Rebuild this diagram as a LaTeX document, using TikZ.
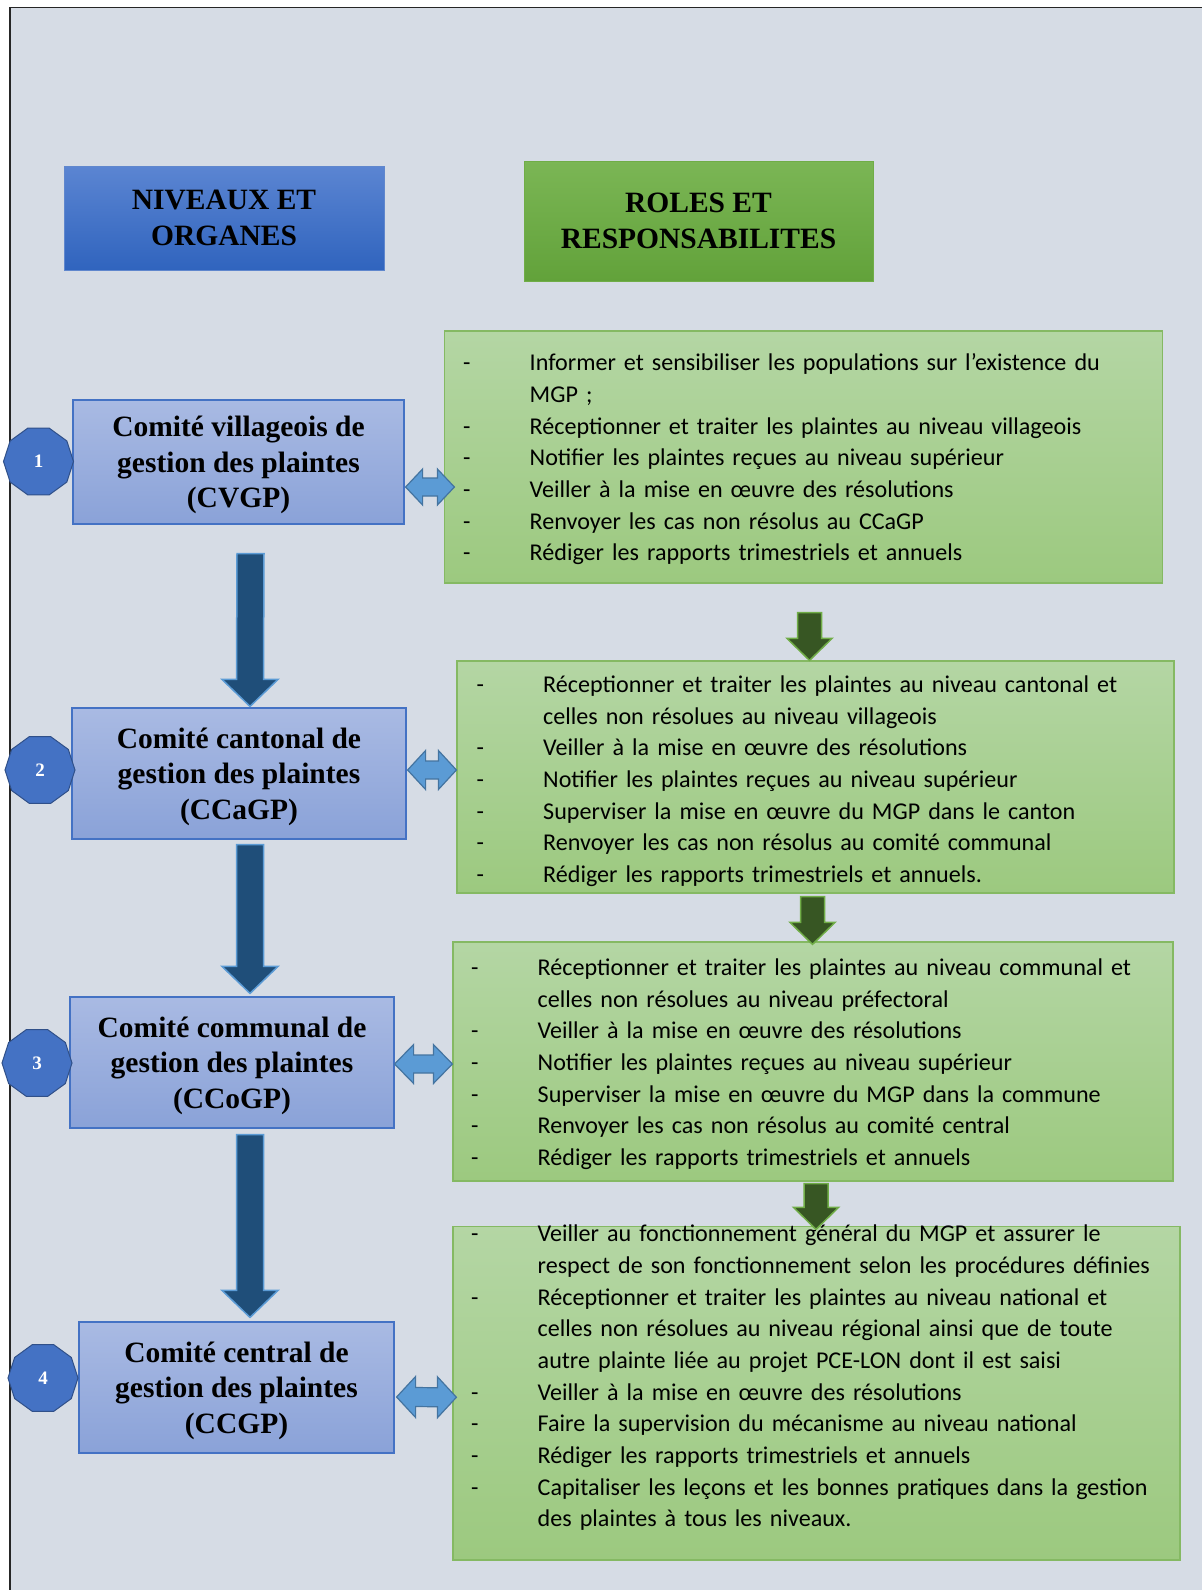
\documentclass[tikz,border=0pt]{standalone}
\usepackage{fontspec}
\setmainfont{Carlito}
\newfontfamily\titre{Liberation Serif}
\usetikzlibrary{calc,shapes.geometric}
\definecolor{fond}{HTML}{D6DCE5}
\definecolor{bleuhaut}{HTML}{5B85D2}
\definecolor{bleubas}{HTML}{3064BE}
\definecolor{verthaut}{HTML}{7BB655}
\definecolor{vertbas}{HTML}{62A23A}
\definecolor{comitehaut}{HTML}{A9BAE3}
\definecolor{comitebas}{HTML}{8AA2D8}
\definecolor{roleshaut}{HTML}{B4D6A4}
\definecolor{rolesbas}{HTML}{9CC97F}
\definecolor{bleuoffice}{HTML}{4472C4}
\definecolor{bleuclair}{HTML}{5B9BD5}
\definecolor{bleunuit}{HTML}{1F4E79}
\definecolor{vertoffice}{HTML}{70AD47}
\definecolor{vertfonce}{HTML}{375623}
\newcommand{\tiret}{\strut\makebox[66.5pt][l]{-}}
\newcommand{\suite}{\strut\hspace*{66.5pt}}
\newcommand{\haut}{\rule{0pt}{27pt}}
\newcommand{\flechebas}[6]{\draw[#1] ($(#2)+(-#4,0)$) -- ($(#3)+(-#4,-#6)$) -- ($(#3)+(-#5,-#6)$) -- (#3) -- ($(#3)+(#5,-#6)$) -- ($(#3)+(#4,-#6)$) -- ($(#2)+(#4,0)$) -- cycle;}
\newcommand{\flechedouble}[6]{\draw[#1] (#2) -- ($(#2)+(#6,-#5)$) -- ($(#2)+(#6,-#4)$) -- ($(#3)+(-#6,-#4)$) -- ($(#3)+(-#6,-#5)$) -- (#3) -- ($(#3)+(-#6,#5)$) -- ($(#3)+(-#6,#4)$) -- ($(#2)+(#6,#4)$) -- ($(#2)+(#6,#5)$) -- cycle;}
\begin{document}
\begin{tikzpicture}[x=1pt, y=-1pt,
	entete/.style={rectangle, line width=1pt, inner sep=0, align=center, font=\titre\bfseries\fontsize{29.5}{35.5}\selectfont},
	comite/.style={rectangle, draw=bleuoffice, line width=1.2pt, top color=comitehaut, bottom color=comitebas, inner sep=0, align=center, font=\titre\bfseries\fontsize{29.5}{35.5}\selectfont},
	numero/.style={regular polygon, regular polygon sides=10, minimum size=70pt, inner sep=0, fill=bleuoffice, draw=bleuoffice!70!black, line width=1pt, text=white, font=\titre\bfseries\fontsize{19}{20}\selectfont},
	roles/.style={rectangle, draw=vertoffice!85!white, line width=1.2pt, top color=roleshaut, bottom color=rolesbas, inner sep=0},
	texte/.style={anchor=north west, inner sep=0, text width=720pt, align=left, font=\fontsize{24.1}{31.7}\selectfont},
	fbleue/.style={fill=bleunuit, draw=bleuclair, line width=1.5pt, line join=miter},
	fdouble/.style={fill=bleuclair, draw=bleuclair!75!black, line width=1.2pt, line join=miter},
	fverte/.style={fill=vertfonce, draw=vertoffice, line width=1.5pt, line join=miter}]
	\useasboundingbox (0,0) rectangle (1202,1590);
	\fill[fond] (9.8,7.5) rectangle (1202,1590);
	\draw[black!85, line width=1.4pt] (9.8,1590) -- (9.8,7.5) -- (1202,7.5);

	\node[entete, draw=bleuoffice!85!white, top color=bleuhaut, bottom color=bleubas, minimum width=320pt, minimum height=104pt] (h1) at (224,218) {NIVEAUX ET\\ORGANES};
	\node[entete, draw=vertoffice, top color=verthaut, bottom color=vertbas, minimum width=349pt, minimum height=120pt] (h2) at (698.5,221) {ROLES ET\\RESPONSABILITES};

	\node[comite, minimum width=331pt, minimum height=124pt] (v1) at (238.5,462) {\haut Comité villageois de\\gestion des plaintes\\(CVGP)};
	\node[comite, minimum width=334pt, minimum height=131pt] (v2) at (239,773.5) {\haut Comité cantonal de\\gestion des plaintes\\(CCaGP)};
	\node[comite, minimum width=324pt, minimum height=131pt] (v3) at (232,1062.5) {\haut Comité communal de\\gestion des plaintes\\(CCoGP)};
	\node[comite, minimum width=315pt, minimum height=131pt] (v4) at (236.5,1387.5) {\haut Comité central de\\gestion des plaintes\\(CCGP)};

	\node[numero] (n1) at (38.5,461.5) {1};
	\node[numero] (n2) at (40,770) {2};
	\node[numero] (n3) at (37,1063) {3};
	\node[numero] (n4) at (43,1378) {4};

	\node[roles, minimum width=718pt, minimum height=252pt] (r1) at (803.5,457) {};
	\node[roles, minimum width=717pt, minimum height=232pt] (r2) at (815.5,777) {};
	\node[roles, minimum width=720pt, minimum height=239pt] (r3) at (813,1061.5) {};
	\node[roles, minimum width=727pt, minimum height=333.5pt] (r4) at (816.5,1393.25) {};

	\coordinate (b1h) at ($(v1.south)+(12,29)$);
	\coordinate (b1b) at ($(v2.north)+(11,-1)$);
	\coordinate (b2h) at ($(v2.south)+(11,5)$);
	\coordinate (b2b) at ($(v3.north)+(18,-3)$);
	\coordinate (b3h) at ($(v3.south)+(18,6)$);
	\coordinate (b3b) at ($(v4.north)+(13.5,-4)$);
	\flechebas{fbleue}{b1h}{b1b}{13.5}{28}{27}
	\flechebas{fbleue}{b2h}{b2b}{13.5}{28}{27}
	\flechebas{fbleue}{b3h}{b3b}{13.5}{28}{27}

	\coordinate (d1g) at ($(v1.east)+(1,25)$);
	\coordinate (d1d) at ($(r1.west)+(10.5,30)$);
	\coordinate (d2g) at ($(v2.east)+(1,-3.5)$);
	\coordinate (d2d) at ($(r2.west)+(0,-7)$);
	\coordinate (d3g) at ($(v3.east)+(0,1.5)$);
	\coordinate (d3d) at ($(r3.west)+(0,2.5)$);
	\coordinate (d4g) at ($(v4.east)+(2,9.5)$);
	\coordinate (d4d) at ($(r4.west)+(4,4)$);
	\flechedouble{fdouble}{d1g}{d1d}{9}{18}{17}
	\flechedouble{fdouble}{d2g}{d2d}{9}{19.5}{18}
	\flechedouble{fdouble}{d3g}{d3d}{9}{19.5}{19}
	\flechedouble{fdouble}{d4g}{d4d}{9.5}{20.5}{19}

	\coordinate (g1h) at ($(r1.south)+(6,29)$);
	\coordinate (g1b) at ($(r2.north)+(-6,0)$);
	\coordinate (g2h) at ($(r2.south)+(-3,3)$);
	\coordinate (g2b) at ($(r3.north)+(-0.5,3)$);
	\coordinate (g3h) at ($(r3.south)+(3,2)$);
	\coordinate (g3b) at ($(r4.north)+(-0.5,3.5)$);
	\flechebas{fverte}{g1h}{g1b}{12}{22.5}{22}
	\flechebas{fverte}{g2h}{g2b}{12}{22.5}{22}
	\flechebas{fverte}{g3h}{g3b}{12}{22.5}{22}

	\node[texte] (t1) at (463,348.3) {\tiret Informer et sensibiliser les populations sur l’existence du\\
		\suite MGP~;\\
		\tiret Réceptionner et traiter les plaintes au niveau villageois\\
		\tiret Notifier les plaintes reçues au niveau supérieur\\
		\tiret Veiller à la mise en œuvre des résolutions\\
		\tiret Renvoyer les cas non résolus au CCaGP\\
		\tiret Rédiger les rapports trimestriels et annuels};
	\node[texte] (t2) at (476.5,670) {\tiret Réceptionner et traiter les plaintes au niveau cantonal et\\
		\suite celles non résolues au niveau villageois\\
		\tiret Veiller à la mise en œuvre des résolutions\\
		\tiret Notifier les plaintes reçues au niveau supérieur\\
		\tiret Superviser la mise en œuvre du MGP dans le canton\\
		\tiret Renvoyer les cas non résolus au comité communal\\
		\tiret Rédiger les rapports trimestriels et annuels.};
	\node[texte] (t3) at (471,953) {\tiret Réceptionner et traiter les plaintes au niveau communal et\\
		\suite celles non résolues au niveau préfectoral\\
		\tiret Veiller à la mise en œuvre des résolutions\\
		\tiret Notifier les plaintes reçues au niveau supérieur\\
		\tiret Superviser la mise en œuvre du MGP dans la commune\\
		\tiret Renvoyer les cas non résolus au comité central\\
		\tiret Rédiger les rapports trimestriels et annuels};
	\node[texte] (t4) at (471,1219.2) {\tiret Veiller au fonctionnement général du MGP et assurer le\\
		\suite respect de son fonctionnement selon les procédures définies\\
		\tiret Réceptionner et traiter les plaintes au niveau national et\\
		\suite celles non résolues au niveau régional ainsi que de toute\\
		\suite autre plainte liée au projet PCE-LON dont il est saisi\\
		\tiret Veiller à la mise en œuvre des résolutions\\
		\tiret Faire la supervision du mécanisme au niveau national\\
		\tiret Rédiger les rapports trimestriels et annuels\\
		\tiret Capitaliser les leçons et les bonnes pratiques dans la gestion\\
		\suite des plaintes à tous les niveaux.};
\end{tikzpicture}
\end{document}
